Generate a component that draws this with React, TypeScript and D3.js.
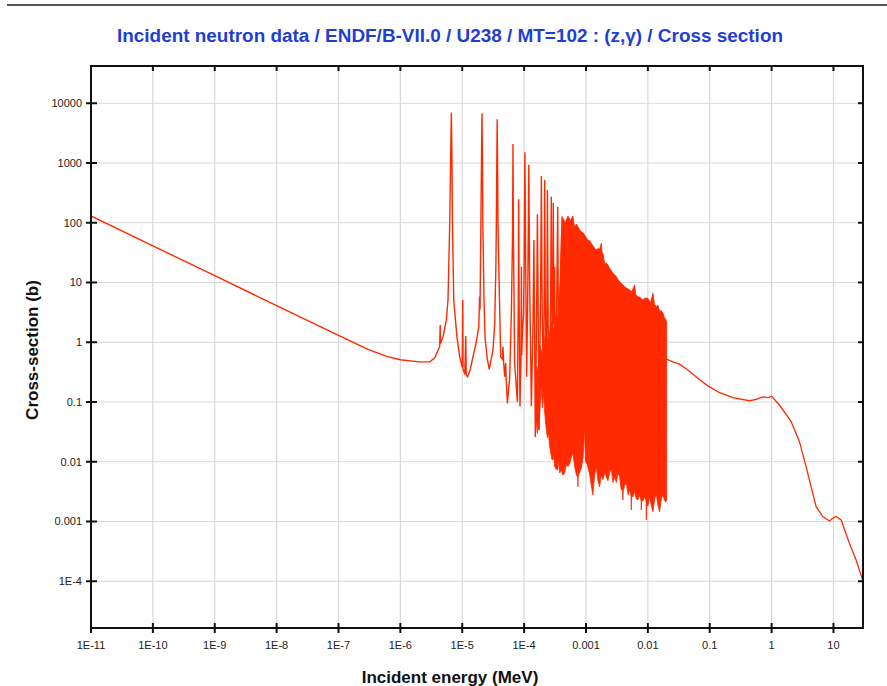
import React from 'react';
import * as d3 from 'd3';

const W = 887;
const H = 686;
const plot = { left: 91, right: 863, top: 66, bottom: 628 };

const xDomain = [1e-11, 30];
const yDomain = [1.65e-5, 4.2e4];

const titleText = 'Incident neutron data / ENDF/B-VII.0 / U238 / MT=102 : (z,\u03b3) / Cross section';
const xLabel = 'Incident energy (MeV)';
const yLabel = 'Cross-section (b)';

const xTickValues = [1e-11, 1e-10, 1e-9, 1e-8, 1e-7, 1e-6, 1e-5, 1e-4, 1e-3, 1e-2, 1e-1, 1, 10];
const xTickLabels = ['1E-11', '1E-10', '1E-9', '1E-8', '1E-7', '1E-6', '1E-5', '1E-4', '0.001', '0.01', '0.1', '1', '10'];
const yTickValues = [1e-4, 1e-3, 1e-2, 1e-1, 1, 10, 100, 1000, 10000];
const yTickLabels = ['1E-4', '0.001', '0.01', '0.1', '1', '10', '100', '1000', '10000'];

// Thermal + resolved resonance line (MeV, barns)
const lowEnergy = [
  1e-11, 1e-10, 1e-9, 1e-8, 1e-7, 3e-7, 6e-7, 1e-6, 2e-6, 3e-6,
  3.6e-6, 4.07e-6, 4.32e-6, 4.4e-6, 4.45e-6, 4.9e-6, 5.55e-6, 5.89e-6, 6.28e-6, 6.5e-6,
  6.67e-6, 6.82e-6, 6.94e-6, 7.29e-6, 8.2e-6, 9.1e-6, 1.0e-5, 1.02e-5, 1.03e-5, 1.1e-5,
  1.14e-5, 1.16e-5, 1.22e-5, 1.34e-5, 1.49e-5, 1.67e-5, 1.85e-5, 1.91e-5, 1.94e-5, 2.0e-5,
  2.05e-5, 2.09e-5, 2.12e-5, 2.15e-5, 2.25e-5, 2.33e-5, 2.51e-5, 2.73e-5, 3.14e-5, 3.35e-5,
  3.5e-5, 3.56e-5, 3.62e-5, 3.67e-5, 3.72e-5, 3.78e-5, 4.0e-5, 4.18e-5, 4.45e-5, 4.56e-5,
  4.65e-5, 4.85e-5, 5.04e-5, 5.12e-5, 5.37e-5, 5.85e-5, 6.22e-5, 6.5e-5, 6.61e-5, 6.72e-5,
  7.03e-5, 7.78e-5, 8.05e-5, 8.17e-5, 8.3e-5, 8.57e-5, 8.9e-5, 9.04e-5, 9.15e-5, 9.38e-5,
  9.8e-5, 1.0e-4, 1.03e-4, 1.06e-4, 1.1e-4, 1.15e-4, 1.19e-4, 1.23e-4, 1.31e-4, 1.39e-4,
  1.44e-4, 1.48e-4, 1.52e-4, 1.6e-4, 1.64e-4, 1.69e-4, 1.74e-4, 1.85e-4, 1.9e-4, 1.96e-4,
  2.05e-4, 2.12e-4, 2.15e-4, 2.2e-4, 2.3e-4, 2.38e-4, 2.45e-4, 2.5e-4, 2.59e-4, 2.68e-4,
  2.75e-4, 2.82e-4, 2.88e-4, 2.96e-4, 3.03e-4, 3.12e-4, 3.2e-4, 3.35e-4, 3.49e-4, 3.6e-4,
  3.75e-4, 3.9e-4, 4.1e-4, 4.25e-4, 4.4e-4,
];
const lowSigma = [
  130, 41, 13, 4.1, 1.3, 0.76, 0.58, 0.51, 0.47, 0.47,
  0.55, 0.74, 0.84, 1.95, 0.95, 1.24, 2.4, 5.1, 100, 1270,
  6960, 1270, 100, 5.1, 1.24, 0.57, 0.38, 5.1, 0.35, 0.29,
  1.27, 0.28, 0.265, 0.344, 0.57, 0.96, 1.8, 5.8, 3.5, 100,
  1270, 6800, 1270, 100, 5, 1.24, 0.57, 0.353, 0.74, 2.08,
  20, 100, 1000, 5400, 1000, 100, 5, 0.57, 0.52, 0.84,
  0.5, 0.265, 0.45, 0.25, 0.095, 0.265, 3.1, 60, 2080, 60,
  0.45, 0.1, 5, 247, 5, 0.084, 0.5, 18.4, 0.6, 1.43,
  3, 20, 1510, 20, 0.265, 10, 930, 10, 0.085, 2,
  51.5, 1, 0.026, 5, 139, 3, 0.034, 8, 607, 3,
  0.2, 10, 520, 5, 0.1, 354, 2, 0.05, 0.03, 5,
  273, 3, 0.05, 214, 2, 18.4, 0.05, 3, 186, 1,
  0.03, 10, 127, 1, 82,
];

// Unresolved dense band: upper edge
const bandTopEnergy = [
  1.52e-4, 1.6e-4, 1.7e-4, 1.8e-4, 2.0e-4, 2.2e-4, 2.5e-4, 2.7e-4, 3.0e-4, 3.3e-4, 3.5e-4, 3.8e-4, 4.0e-4,
  4.25e-4, 4.6e-4, 5.11e-4, 5.6e-4, 6.15e-4,
  6.5e-4, 7.0e-4, 7.89e-4, 8.41e-4, 9.0e-4, 9.51e-4, 1.07e-3, 1.15e-3, 1.22e-3, 1.3e-3, 1.38e-3, 1.47e-3,
  1.55e-3, 1.66e-3, 1.77e-3, 1.82e-3, 1.88e-3, 2.0e-3, 2.15e-3, 2.3e-3, 2.41e-3, 2.55e-3, 2.72e-3, 2.9e-3,
  3.09e-3, 3.3e-3, 3.49e-3, 3.8e-3, 4.21e-3, 4.6e-3, 5.07e-3, 5.5e-3, 6.11e-3, 6.4e-3, 6.9e-3, 7.6e-3,
  8.31e-3, 9.0e-3, 1.0e-2, 1.1e-2, 1.21e-2, 1.28e-2, 1.37e-2, 1.45e-2, 1.55e-2, 1.65e-2, 1.75e-2, 1.85e-2,
  1.95e-2, 2.01e-2,
];
const bandTopSigma = [
  0.1, 0.4, 0.3, 0.9, 0.6, 1.4, 1.0, 2.2, 1.6, 3.0, 2.5, 10, 60,
  120, 100, 130, 110, 130,
  85, 95, 76, 71, 68, 62.5, 51.5, 50, 45.4, 41, 37.4, 35,
  37, 36, 45.4, 32, 30.9, 21, 21, 19, 17.3, 16, 14.3, 13.5,
  12.5, 11.2, 10.3, 9.5, 8.5, 8.0, 7.5, 7.0, 9.1, 6.2, 5.8, 5.6,
  5.1, 5.5, 5.45, 4.6, 6.6, 4.3, 3.94, 4.2, 3.3, 3.4, 3.06, 2.6,
  2.4, 2.16,
];

// Unresolved dense band: lower edge
const bandLowEnergy = [
  1.52e-4, 1.58e-4, 1.64e-4, 1.7e-4, 1.74e-4, 1.82e-4, 1.9e-4, 1.97e-4, 2.05e-4, 2.15e-4, 2.25e-4, 2.38e-4,
  2.48e-4, 2.59e-4, 2.7e-4, 2.8e-4, 2.92e-4, 3.0e-4, 3.12e-4, 3.3e-4, 3.49e-4, 3.6e-4, 3.75e-4, 3.99e-4,
  4.2e-4, 4.52e-4, 4.8e-4, 5.11e-4, 5.45e-4, 5.8e-4, 6.15e-4, 6.6e-4, 7.0e-4, 7.35e-4, 7.41e-4, 7.47e-4,
  7.8e-4, 8.41e-4, 9.0e-4, 9.51e-4, 9.8e-4, 1.05e-3, 1.15e-3, 1.22e-3, 1.29e-3, 1.38e-3, 1.47e-3, 1.55e-3,
  1.66e-3, 1.77e-3, 1.88e-3, 2.0e-3, 2.13e-3, 2.26e-3, 2.41e-3, 2.56e-3, 2.72e-3, 2.9e-3, 3.1e-3, 3.3e-3,
  3.49e-3, 3.7e-3, 3.9e-3, 3.95e-3, 4.0e-3, 4.2e-3, 4.48e-3, 4.8e-3, 5.07e-3, 5.35e-3, 5.4e-3, 5.45e-3,
  5.73e-3, 6.1e-3, 6.5e-3, 6.9e-3, 7.4e-3, 7.78e-3, 7.84e-3, 7.9e-3, 8.3e-3, 8.85e-3, 9.35e-3, 9.45e-3,
  9.55e-3, 1.0e-2, 1.07e-2, 1.14e-2, 1.21e-2, 1.29e-2, 1.37e-2, 1.45e-2, 1.55e-2, 1.65e-2, 1.75e-2,
  1.86e-2, 1.93e-2, 2.01e-2,
];
const bandLowSigma = [
  0.026, 0.05, 0.03, 0.06, 0.034, 0.09, 0.2, 0.08, 0.15, 0.066, 0.04, 0.025,
  0.03, 0.018, 0.014, 0.011, 0.0107, 0.013, 0.0083, 0.0075, 0.0073, 0.011, 0.0065, 0.0073,
  0.006, 0.0064, 0.009, 0.0083, 0.0094, 0.012, 0.0139, 0.008, 0.006, 0.0055, 0.0038, 0.0055,
  0.0065, 0.0078, 0.012, 0.0368, 0.01, 0.009, 0.006, 0.004, 0.0028, 0.006, 0.0083, 0.005,
  0.0038, 0.006, 0.005, 0.0065, 0.0056, 0.0048, 0.0065, 0.0078, 0.0045, 0.0056, 0.0045, 0.0065,
  0.0056, 0.0035, 0.0032, 0.0023, 0.0032, 0.004, 0.0044, 0.0028, 0.0034, 0.0026, 0.00156, 0.0026,
  0.0026, 0.0032, 0.0024, 0.0023, 0.0028, 0.0022, 0.00156, 0.0022, 0.0022, 0.0026, 0.0022, 0.00106,
  0.0022, 0.0018, 0.0026, 0.0018, 0.00146, 0.0024, 0.0028, 0.0019, 0.00146, 0.0024, 0.0028,
  0.0023, 0.0021, 0.0023,
];

// Smooth high-energy part
const highEnergy = [
  2.01e-2, 2.54e-2, 3.25e-2, 4.43e-2, 6.43e-2, 9.31e-2, 0.144, 0.236, 0.44, 0.564, 0.72, 0.87, 1.0,
  1.34, 2.07, 2.82, 3.61, 4.35, 5.25, 6.71, 8.61, 9.72, 11.0, 13.3, 18.1, 23.2, 30,
];
const highSigma = [
  0.52, 0.47, 0.43, 0.344, 0.25, 0.186, 0.143, 0.118, 0.105, 0.111, 0.1215, 0.118, 0.125,
  0.089, 0.047, 0.0217, 0.0083, 0.0038, 0.00177, 0.00121, 0.00102, 0.00113, 0.00121, 0.00106, 4.3e-4, 2.27e-4, 1.01e-4,
];

const RED = '#ff2a00';

export default function App() {
  const x = d3.scaleLog().domain(xDomain).range([plot.left, plot.right]);
  const y = d3.scaleLog().domain(yDomain).range([plot.bottom, plot.top]);

  const line = d3
    .line<[number, number]>()
    .x((d) => x(d[0]))
    .y((d) => y(d[1]));

  const lowPts: [number, number][] = lowEnergy.map((e, i) => [e, lowSigma[i]]);
  const highPts: [number, number][] = highEnergy.map((e, i) => [e, highSigma[i]]);
  const topPts: [number, number][] = bandTopEnergy.map((e, i) => [e, bandTopSigma[i]]);
  const botPts: [number, number][] = bandLowEnergy.map((e, i) => [e, bandLowSigma[i]]);
  const bandPath = line([...topPts, ...botPts.slice().reverse()]) + 'Z';

  const font = "'Liberation Sans', Arial, Helvetica, sans-serif";

  return (
    <svg
      width={W}
      height={H}
      viewBox={`0 0 ${W} ${H}`}
      style={{ position: 'absolute', left: 0, top: 0, background: '#fff' }}
    >
      <rect x={0} y={0} width={W} height={H} fill="#fff" />
      <line x1={7} x2={W} y1={5} y2={5} stroke="#555" strokeWidth={2} />
      <text
        x={450}
        y={42}
        textAnchor="middle"
        fontFamily="'Liberation Sans Narrow', 'Arial Narrow', 'Liberation Sans', Arial, sans-serif"
        fontWeight="bold"
        fontSize={18}
        fill="#1f3fd4"
        textLength={666}
        lengthAdjust="spacingAndGlyphs"
      >
        {titleText}
      </text>

      <defs>
        <clipPath id="plotClip">
          <rect x={plot.left} y={plot.top} width={plot.right - plot.left} height={plot.bottom - plot.top} />
        </clipPath>
      </defs>

      {/* grid */}
      <g stroke="#d9d9d9" strokeWidth={1.2}>
        {xTickValues.map((v, i) => (
          <line key={'gx' + i} x1={x(v)} x2={x(v)} y1={plot.top} y2={plot.bottom} />
        ))}
        {yTickValues.map((v, i) => (
          <line key={'gy' + i} x1={plot.left} x2={plot.right} y1={y(v)} y2={y(v)} />
        ))}
      </g>

      {/* data */}
      <g clipPath="url(#plotClip)">
        <path d={bandPath} fill={RED} stroke={RED} strokeWidth={0.8} strokeLinejoin="miter" />
        <path d={line(lowPts) || ''} fill="none" stroke={RED} strokeWidth={1.4} strokeLinejoin="miter" />
        <path d={line(highPts) || ''} fill="none" stroke={RED} strokeWidth={1.3} />
      </g>

      {/* frame */}
      <rect
        x={plot.left}
        y={plot.top}
        width={plot.right - plot.left}
        height={plot.bottom - plot.top}
        fill="none"
        stroke="#111"
        strokeWidth={2}
      />

      {/* ticks */}
      <g stroke="#111" strokeWidth={2}>
        {xTickValues.map((v, i) => (
          <g key={'tx' + i}>
            <line x1={x(v)} x2={x(v)} y1={plot.bottom - 5} y2={plot.bottom + 5} />
            <line x1={x(v)} x2={x(v)} y1={plot.top} y2={plot.top + 5} />
          </g>
        ))}
        {yTickValues.map((v, i) => (
          <g key={'ty' + i}>
            <line x1={plot.left - 5} x2={plot.left + 6} y1={y(v)} y2={y(v)} />
            <line x1={plot.right - 5} x2={plot.right} y1={y(v)} y2={y(v)} />
          </g>
        ))}
      </g>

      {/* tick labels */}
      <g fontFamily={font} fontSize={11} fill="#222">
        {xTickValues.map((v, i) => (
          <text key={'lx' + i} x={x(v)} y={649} textAnchor="middle">
            {xTickLabels[i]}
          </text>
        ))}
        {yTickValues.map((v, i) => (
          <text key={'ly' + i} x={82} y={y(v) + 4} textAnchor="end">
            {yTickLabels[i]}
          </text>
        ))}
      </g>

      {/* axis titles */}
      <text x={450} y={683} textAnchor="middle" fontFamily={font} fontWeight="bold" fontSize={17} fill="#111">
        {xLabel}
      </text>
      <text
        transform={`translate(38, 350) rotate(-90)`}
        textAnchor="middle"
        fontFamily={font}
        fontWeight="bold"
        fontSize={17}
        fill="#111"
      >
        {yLabel}
      </text>
    </svg>
  );
}
